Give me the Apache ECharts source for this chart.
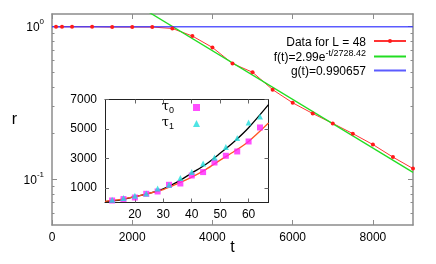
<!DOCTYPE html>
<html><head><meta charset="utf-8">
<script src="https://cdn.jsdelivr.net/npm/echarts@6/dist/echarts.min.js"></script>
<style>html,body{margin:0;padding:0;background:#fff}#c{width:436px;height:264px}</style>
</head><body><div id="c"></div>
<script>
// ---- main plot data ----
const tVals = [100, 250, 500, 1000, 1500, 2000, 2500, 3000, 3500, 4000, 4500, 5000, 5500, 6000, 6500, 7000, 7500, 8000, 8500, 9000];
const rVals = [0.99, 0.99, 0.99, 0.99, 0.986, 0.986, 0.986, 0.965, 0.861, 0.725, 0.569, 0.499, 0.384, 0.315, 0.268, 0.231, 0.198, 0.168, 0.139, 0.117];
const fitT = [2000, 9000];
const fitR = [1.436, 0.1104];
const gT = [0, 9000];
const gR = [0.990657, 0.990657];
const xTicks = [0, 2000, 4000, 6000, 8000];
const yTicks = [0.1, 1];
const yMinorTicks = [0.06, 0.07, 0.08, 0.09, 0.2, 0.3, 0.4, 0.5, 0.6, 0.7, 0.8, 0.9];
// ---- inset data ----
const L = [12, 16, 20, 24, 28, 32, 36, 40, 44, 48, 52, 56, 60, 64];
const tau0 = [136, 231, 340, 591, 748, 1203, 1292, 1835, 2067, 2719, 3175, 3467, 4147, 5099];
const tau1 = [184, 299, 455, 612, 952, 1203, 1659, 2067, 2651, 3059, 3766, 4378, 5438, 5846];
const fitL = [9.5, 15, 20, 25, 30, 35, 40, 45, 50, 55, 60, 67];
const fitTau1 = [60, 185, 400, 625, 930, 1400, 2000, 2600, 3350, 4150, 5080, 6650];
const fitTau0 = [78, 210, 395, 625, 880, 1280, 1720, 2250, 2880, 3480, 4150, 5400];
const insetXTicks = [20, 30, 40, 50, 60];
const insetYTicks = [1000, 3000, 5000, 7000];

const FONT = 'Liberation Sans';
const GRAY = '#8c8c8c';
const DARK = '#222';
const zip = (a, b) => a.map((v, i) => [v, b[i]]);
const plain = v => String(v);

function mainX(pos, showLabel) {
  return {
    gridIndex: 0, type: 'value', min: 0, max: 9000, position: pos,
    axisLine: { show: true, onZero: false, lineStyle: { color: GRAY, width: 1.5 } },
    axisTick: { show: true, inside: true, length: 5, customValues: xTicks, lineStyle: { color: GRAY } },
    axisLabel: { show: showLabel, customValues: xTicks, formatter: plain, color: '#000', fontSize: 12, fontFamily: FONT, margin: 7 },
    splitLine: { show: false }
  };
}
function mainY(pos, showLabel, minor) {
  const vals = minor ? yMinorTicks : yTicks;
  return {
    gridIndex: 0, type: 'log', logBase: 10, min: 0.05, max: 1.2, position: pos,
    axisLine: { show: !minor, onZero: false, lineStyle: { color: GRAY, width: 1.5 } },
    axisTick: { show: true, inside: true, length: minor ? 2.5 : 5, customValues: vals, lineStyle: { color: GRAY } },
    axisLabel: {
      show: showLabel, customValues: yTicks, margin: 8,
      formatter: v => '{b|10}{s|' + Math.round(Math.log10(v)) + '}',
      rich: {
        b: { fontSize: 12, fontFamily: FONT, color: '#000', lineHeight: 16, verticalAlign: 'bottom' },
        s: { fontSize: 8, fontFamily: FONT, color: '#000', lineHeight: 16, verticalAlign: 'top' }
      }
    },
    splitLine: { show: false }
  };
}
function insetX(pos, showLabel) {
  return {
    gridIndex: 1, type: 'value', min: 9.5, max: 67, position: pos,
    axisLine: { show: true, onZero: false, lineStyle: { color: DARK, width: 1 } },
    axisTick: { show: true, inside: true, length: 4, customValues: insetXTicks, lineStyle: { color: '#666' } },
    axisLabel: { show: showLabel, customValues: insetXTicks, formatter: plain, color: '#000', fontSize: 12, fontFamily: FONT, margin: 6 },
    splitLine: { show: false }
  };
}
function insetY(pos, showLabel) {
  return {
    gridIndex: 1, type: 'value', min: 0, max: 7000, position: pos,
    axisLine: { show: true, onZero: false, lineStyle: { color: DARK, width: 1 } },
    axisTick: { show: true, inside: true, length: 4, customValues: insetYTicks, lineStyle: { color: '#666' } },
    axisLabel: { show: showLabel, customValues: insetYTicks, formatter: plain, color: '#000', fontSize: 12, fontFamily: FONT, margin: 8 },
    splitLine: { show: false }
  };
}

const xMain = mainX('bottom', true);
Object.assign(xMain, { name: 't', nameLocation: 'middle', nameGap: 15, nameMoveOverlap: false, nameTextStyle: { fontSize: 16, fontFamily: FONT, color: '#000' } });
const yMain = mainY('left', true, false);
Object.assign(yMain, { name: 'r', nameLocation: 'middle', nameGap: 35, nameRotate: 0, nameMoveOverlap: false, nameTextStyle: { fontSize: 16, fontFamily: FONT, color: '#000' } });

const chart = echarts.init(document.getElementById('c'), null, { renderer: 'canvas' });
chart.setOption({
  animation: false,
  backgroundColor: '#fff',
  grid: [
    { left: 52, top: 14, right: 23, bottom: 39, outerBoundsMode: 'none', containLabel: false },
    { left: 105, top: 99.5, width: 163.5, height: 103, outerBoundsMode: 'none', containLabel: false,
      show: true, backgroundColor: '#fff', borderWidth: 0 }
  ],
  xAxis: [xMain, mainX('top', false), insetX('bottom', true), insetX('top', false)],
  yAxis: [yMain, mainY('right', false, false), mainY('left', false, true), mainY('right', false, true),
          insetY('left', true), insetY('right', false)],
  legend: [
    {
      data: ['Data for L = 48', { name: 'f(t)', itemStyle: { opacity: 0 } }, { name: 'g(t)', itemStyle: { opacity: 0 } }],
      orient: 'vertical', right: 29, top: 35, align: 'right',
      padding: 0, itemWidth: 32, itemHeight: 5, itemGap: 0.5, selectedMode: false,
      formatter: n => n === 'f(t)' ? '{b|f(t)=2.99e}{s|-t/2728.42}{g|}' : (n === 'g(t)' ? '{b|g(t)=0.990657}{g|}' : '{b|Data for L = 48}{g|}'),
      textStyle: {
        fontSize: 12, fontFamily: FONT, color: '#000',
        rich: {
          b: { fontSize: 12, fontFamily: FONT, color: '#000', lineHeight: 15, verticalAlign: 'bottom' },
          s: { fontSize: 9, fontFamily: FONT, color: '#000', lineHeight: 15, verticalAlign: 'top' },
          g: { width: 3 }
        }
      }
    },
    {
      data: ['τ0', 'τ1'], orient: 'vertical', right: 436 - 200, top: 100, align: 'right',
      padding: 0, itemWidth: 7, itemHeight: 7, itemGap: 1, selectedMode: false,
      formatter: n => '{b|τ}{s|' + n.slice(1) + '}{g|}',
      textStyle: {
        fontSize: 12, color: '#000',
        rich: {
          b: { fontSize: 13, fontFamily: 'DejaVu Serif', color: '#000', lineHeight: 15, verticalAlign: 'top' },
          s: { fontSize: 9, fontFamily: FONT, color: '#000', lineHeight: 15, verticalAlign: 'bottom' },
          g: { width: 14 }
        }
      }
    }
  ],
  series: [
    { name: 'Data for L = 48', type: 'line', xAxisIndex: 0, yAxisIndex: 0, data: zip(tVals, rVals),
      symbol: 'circle', symbolSize: 4, showSymbol: true, itemStyle: { color: '#ff1a1a' },
      lineStyle: { color: '#ff3333', width: 1 } },
    { name: 'f(t)', type: 'line', xAxisIndex: 0, yAxisIndex: 0, data: zip(fitT, fitR), symbol: 'none',
      itemStyle: { color: '#22dd22' }, lineStyle: { color: '#22dd22', width: 1.3 }, clip: true },
    { name: 'g(t)', type: 'line', xAxisIndex: 0, yAxisIndex: 0, data: zip(gT, gR), symbol: 'none',
      itemStyle: { color: '#3333ff' }, lineStyle: { color: '#3333ff', width: 1.3, opacity: 0.8 } },
    { name: 'τ1fit', type: 'line', xAxisIndex: 2, yAxisIndex: 4, data: zip(fitL, fitTau1), symbol: 'none',
      smooth: 0.3, lineStyle: { color: '#000', width: 1.3 }, z: 3 },
    { name: 'τ0fit', type: 'line', xAxisIndex: 2, yAxisIndex: 4, data: zip(fitL, fitTau0), symbol: 'none',
      smooth: 0.3, lineStyle: { color: '#ff5522', width: 1.3 }, z: 3 },
    { name: 'τ0', type: 'scatter', xAxisIndex: 2, yAxisIndex: 4, data: zip(L, tau0), symbol: 'rect',
      symbolSize: 6, itemStyle: { color: '#ff22ff' }, z: 4 },
    { name: 'τ1', type: 'scatter', xAxisIndex: 2, yAxisIndex: 4, data: zip(L, tau1), symbol: 'triangle',
      symbolSize: 6, itemStyle: { color: '#22dddd' }, z: 4 }
  ]
});
</script></body></html>
